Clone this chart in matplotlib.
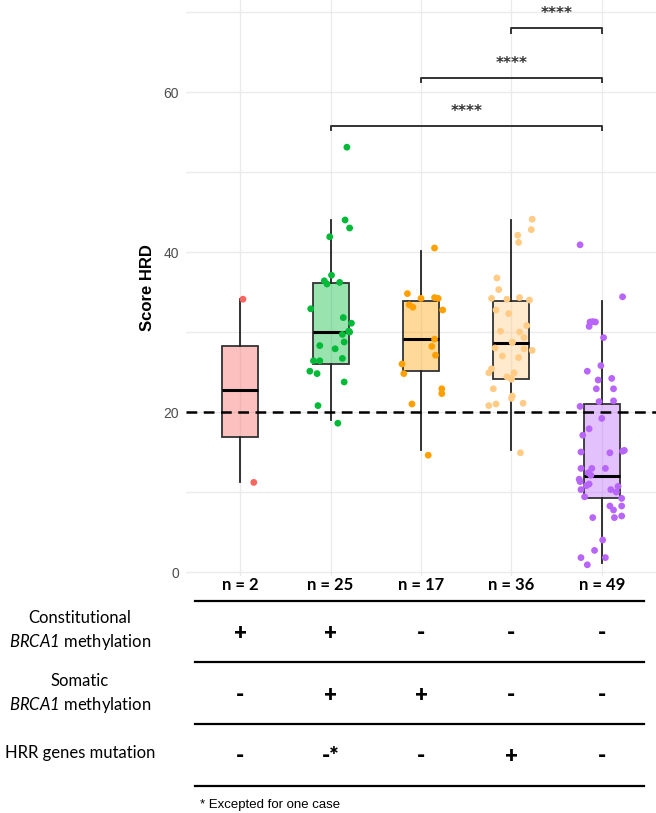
import matplotlib.pyplot as plt
from matplotlib.colors import to_rgba
from matplotlib.transforms import blended_transform_factory

plt.rcParams['mathtext.fontset'] = 'custom'
plt.rcParams['mathtext.rm'] = 'Lato:italic'
plt.rcParams['mathtext.it'] = 'Lato:italic'

# group sizes and colours
n_counts = [2, 25, 17, 36, 49]
point_colors = ["#F8665F", "#00BA38", "#FFA000", "#FFCB85", "#B866F9"]

# box statistics
q1 = [16.9, 26.0, 25.1, 24.1, 9.3]
med = [22.7, 30.0, 29.1, 28.6, 12.0]
q3 = [28.3, 36.1, 33.9, 33.9, 21.0]
whislo = [11.2, 19.0, 15.2, 15.2, 1.1]
whishi = [34.1, 44.0, 40.1, 44.0, 33.9]

# individual scores (y) and horizontal jitter
red_y = [34.1, 11.2]
red_dx = [0.03, 0.15]
green_y = [53.1, 44.0, 43.0, 41.9, 37.1, 36.4, 36.0, 36.2, 32.9, 31.8, 31.1, 30.0, 29.7,
           28.75, 28.3, 27.9, 26.7, 26.4, 26.4, 25.1, 24.8, 23.75, 20.8, 18.6, 30.1]
green_dx = [0.18, 0.16, 0.21, -0.01, 0.01, -0.07, -0.04, 0.10, -0.22, 0.14, 0.23, 0.21, 0.13,
            0.15, -0.12, 0.05, 0.13, -0.19, -0.12, -0.23, -0.15, 0.15, -0.14, 0.08, 0.20]
orange_y = [40.5, 34.8, 34.2, 34.3, 34.2, 32.75, 33.4, 33.1, 29.1, 28.2, 27.1, 26.0, 24.8,
            22.9, 22.3, 21.0, 14.6]
orange_dx = [0.15, -0.15, 0.0, 0.15, 0.19, 0.24, -0.13, -0.09, 0.15, 0.12, 0.16, -0.21, -0.19,
             0.23, 0.23, -0.10, 0.08]
lorange_y = [44.1, 42.8, 42.1, 41.2, 36.75, 35.3, 34.2, 34.1, 34.3, 34.0, 32.75, 32.3, 30.8,
             30.1, 30.0, 29.3, 28.75, 28.0, 27.9, 27.7, 27.0, 26.8, 25.4, 24.9, 24.9, 24.4,
             24.1, 22.9, 22.0, 21.7, 21.1, 20.8, 21.0, 14.9, 28.7, 24.2]
lorange_dx = [0.23, 0.22, 0.07, 0.08, -0.16, -0.14, -0.22, -0.05, 0.09, 0.20, -0.17, -0.03, 0.17,
              -0.12, 0.09, 0.14, 0.01, -0.18, 0.14, 0.23, -0.10, 0.08, -0.22, -0.25, 0.03, -0.05,
              0.0, -0.20, 0.01, 0.0, 0.13, -0.25, -0.17, 0.10, 0.01, 0.0]
purple_y = [40.9, 34.4, 31.25, 31.3, 31.25, 30.7, 29.3, 25.1, 25.8, 24.0, 24.2, 22.9, 22.9,
            21.3, 21.4, 20.7, 19.2, 17.9, 17.1, 15.0, 14.9, 15.1, 15.2, 12.95, 12.95, 12.95,
            12.4, 12.1, 11.6, 11.3, 11.0, 10.8, 10.3, 9.4, 10.3, 10.7, 10.0, 9.2, 8.25, 7.75,
            8.25, 6.8, 6.8, 7.0, 4.0, 2.7, 1.8, 1.8, 0.9]
purple_dx = [-0.24, 0.23, -0.13, -0.10, -0.07, -0.14, 0.02, -0.16, -0.01, -0.04, 0.11, -0.06, 0.13,
             -0.03, 0.13, -0.24, 0.0, -0.14, -0.21, -0.23, 0.09, 0.23, 0.25, -0.23, -0.11, 0.04,
             -0.15, -0.12, -0.25, -0.24, -0.14, -0.17, -0.23, -0.19, 0.10, 0.18, 0.16, 0.22, 0.09, 0.13,
             0.22, -0.10, 0.14, 0.22, 0.01, -0.08, 0.04, -0.23, -0.16]

scores = [red_y, green_y, orange_y, lorange_y, purple_y]
jitter = [red_dx, green_dx, orange_dx, lorange_dx, purple_dx]

threshold = 20
# significance comparisons (group indices, 1-based) and bracket heights
comparisons = [(2, 5), (3, 5), (4, 5)]
bracket_y = [55.8, 61.8, 68.0]
sig_labels = ["****", "****", "****"]

# table below the plot
row_labels = ["Constitutional\n$\\mathrm{BRCA1}$ methylation",
              "Somatic\n$\\mathrm{BRCA1}$ methylation",
              "HRR genes mutation"]
row_const = ["+", "+", "-", "-", "-"]
row_somatic = ["-", "+", "+", "-", "-"]
row_hrr = ["-", "-*", "-", "+", "-"]
footnote = "* Excepted for one case"

fig = plt.figure(figsize=(6.56, 8.13), dpi=100)
ax = fig.add_axes([186 / 656, 237 / 813, 470 / 656, 576 / 813])
pos = list(range(1, len(n_counts) + 1))

stats = []
for i in range(len(n_counts)):
    stats.append(dict(q1=q1[i], med=med[i], q3=q3[i], whislo=whislo[i], whishi=whishi[i],
                      fliers=[]))
bp = ax.bxp(stats, positions=pos, widths=0.4, patch_artist=True, showcaps=False,
            manage_ticks=False,
            boxprops=dict(edgecolor='#333333', lw=1.3),
            whiskerprops=dict(color='#222222', lw=1.3),
            medianprops=dict(color='black', lw=2.2), zorder=2)
for patch, c in zip(bp['boxes'], point_colors):
    fc = list(to_rgba(c))
    fc[3] = 0.4
    patch.set_facecolor(fc)

ax.axhline(threshold, color='black', lw=1.8, ls=(0, (4.3, 2.6)), zorder=3)

for i in range(len(n_counts)):
    xs = [pos[i] + d for d in jitter[i]]
    ax.scatter(xs, scores[i], s=24, color=point_colors[i], edgecolors='none', zorder=4)

for (a, b), y, lab in zip(comparisons, bracket_y, sig_labels):
    ax.plot([a, a, b, b], [y - 0.6, y, y, y - 0.6], color='#333333', lw=1.4, zorder=3)
    ax.text((a + b) / 2, y + 1.8, lab, ha='center', va='center', fontsize=11,
            color='#333333', fontweight='bold')

# grid like theme_minimal
ax.set_yticks([0, 20, 40, 60])
ax.set_yticks([10, 30, 50, 70], minor=True)
ax.set_xticks(pos)
ax.set_xticklabels([f"n = {n}" for n in n_counts], fontsize=12, fontweight='bold',
                   family='Lato')
ax.grid(True, which='both', color='#EBEBEB', lw=1.0, zorder=0)
ax.set_axisbelow(True)
for s in ax.spines.values():
    s.set_visible(False)
ax.tick_params(which='both', length=0)
ax.tick_params(axis='y', labelsize=10, labelcolor='#4D4D4D', pad=5)
ax.tick_params(axis='x', pad=1)
for lab in ax.get_yticklabels():
    lab.set_family('Liberation Sans')

ax.set_xlim(0.4, 5.6)
ax.set_ylim(-0.5, 71.5)
ax.set_ylabel("Score HRD", fontsize=12, fontweight='bold', family='Liberation Sans',
              labelpad=6)

# table overlay in pixel coordinates
ov = fig.add_axes([0, 0, 1, 1])
ov.set_xlim(0, 656)
ov.set_ylim(813, 0)
ov.axis('off')
trans = blended_transform_factory(ax.transData, ov.transData)

for y in [601, 662, 724, 786]:
    ov.plot([0.5, 5.47], [y, y], transform=trans, color='black', lw=1.6)

for lab, y in zip(row_labels, [631, 694, 753]):
    ov.text(80, y, lab, ha='center', va='center', fontsize=12, family='Lato',
            linespacing=1.35)

for row, y in zip([row_const, row_somatic, row_hrr], [633, 695, 756]):
    for p, sym in zip(pos, row):
        ov.text(p, y, sym, transform=trans, ha='center', va='center', fontsize=16,
                fontweight='heavy', family='Lato')

ov.text(200, 805, footnote, ha='left', va='center', fontsize=9.5, family='Liberation Sans')

fig.savefig("out.png", dpi=100)
